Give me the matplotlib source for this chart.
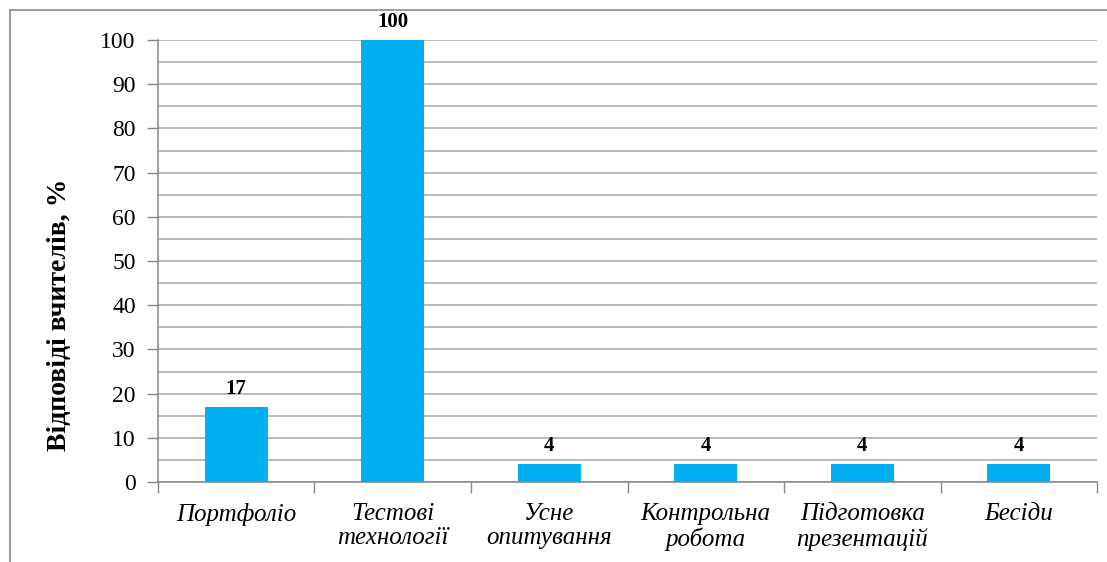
import matplotlib.pyplot as plt
from matplotlib.lines import Line2D
from matplotlib.ticker import MultipleLocator, FixedLocator
import numpy as np

categories = ['Портфоліо', 'Тестові\nтехнології', 'Усне\nопитування',
              'Контрольна\nробота', 'Підготовка\nпрезентацій', 'Бесіди']
values = [17, 100, 4, 4, 4, 4]
y_ticks = [0, 10, 20, 30, 40, 50, 60, 70, 80, 90, 100]

plt.rcParams['font.family'] = ['Liberation Serif', 'DejaVu Serif']

fig = plt.figure(figsize=(11.07, 5.62), dpi=100)
ax = fig.add_axes([0.1427, 0.1423, 0.9910 - 0.1427, 0.9288 - 0.1423])

x = np.arange(len(categories))
bars = ax.bar(x, values, width=0.4, color='#00B0F0', zorder=3)

for xi, v in zip(x, values):
    ax.annotate(str(v), (xi, v), xytext=(0, 6), textcoords='offset points',
                ha='center', va='bottom', fontsize=15, fontweight='bold',
                color='black', annotation_clip=False)

ax.set_xlim(-0.5, len(categories) - 0.5)
ax.set_ylim(0, 100)

ax.yaxis.set_major_locator(FixedLocator(y_ticks))
ax.yaxis.set_minor_locator(MultipleLocator(5))
ax.grid(axis='y', which='both', color='#a6a6a6', linewidth=1.1, zorder=0)
ax.tick_params(axis='y', which='major', length=8, width=1, color='#868686',
               labelsize=17, pad=8)
ax.tick_params(axis='y', which='minor', length=0)

ax.set_xticks(x)
ax.set_xticklabels(categories, fontsize=18, fontstyle='italic', linespacing=1.15)
ax.xaxis.set_minor_locator(FixedLocator(np.arange(len(categories) + 1) - 0.5))
ax.tick_params(axis='x', which='major', length=0, pad=15)
ax.tick_params(axis='x', which='minor', length=8, width=1, color='#868686')

for side in ['top', 'right']:
    ax.spines[side].set_visible(False)
for side in ['left', 'bottom']:
    ax.spines[side].set_color('#868686')
    ax.spines[side].set_linewidth(1.1)

ax.set_ylabel('Відповіді вчителів, %', fontsize=20, fontweight='bold')
ax.yaxis.set_label_coords(-0.092, 0.378)

# outer chart frame (only top and left edges are visible)
fig.add_artist(Line2D([10 / 1107, 10 / 1107], [0, 1 - 10 / 562],
                      transform=fig.transFigure, color='#8c8c8c', lw=1.2))
fig.add_artist(Line2D([10 / 1107, 1], [1 - 10 / 562, 1 - 10 / 562],
                      transform=fig.transFigure, color='#8c8c8c', lw=1.2))

fig.savefig('out.png', dpi=100)
